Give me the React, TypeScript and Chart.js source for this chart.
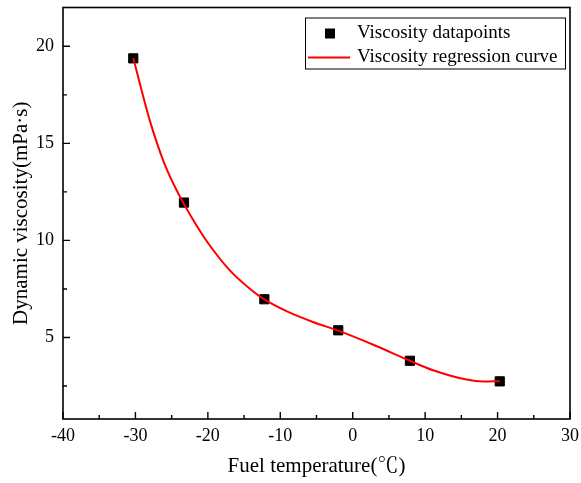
import React, { useEffect, useRef } from 'react';
import { Chart, registerables } from 'chart.js';

Chart.register(...registerables);

// Measured viscosity of the fuel at each temperature
const TEMPERATURES = [-30.3, -23.3, -12.2, -2.0, 7.9, 20.3];
const VISCOSITIES = [19.38, 11.95, 6.97, 5.37, 3.8, 2.74];

// Regression curve through the measurements
const CURVE_TEMPERATURES = [-30.3, -28, -26, -24, -22, -20, -17, -14, -12.2, -9, -5.5, -2, 3, 7.9, 11.1, 15.7, 18, 20.3];
const CURVE_VISCOSITIES = [19.4, 16.16, 13.96, 12.36, 11.04, 9.88, 8.47, 7.45, 6.96, 6.33, 5.8, 5.35, 4.6, 3.8, 3.31, 2.83, 2.73, 2.75];

// Axis ticks
const X_TICKS = [-40, -30, -20, -10, 0, 10, 20, 30];
const X_MINOR_TICKS = [-35, -25, -15, -5, 5, 15, 25];
const Y_TICKS = [5, 10, 15, 20];
const Y_MINOR_TICKS = [2.5, 7.5, 12.5, 17.5];

const FONT = "'Liberation Serif', 'Times New Roman', 'Noto Serif CJK SC', serif";

const framePlugin = {
  id: 'frameAndLegend',
  afterDatasetsDraw(chart: any) {
    const { ctx, chartArea } = chart;
    const { left, right, top, bottom } = chartArea;
    const xs = chart.scales.x;
    const ys = chart.scales.y;
    ctx.save();
    ctx.strokeStyle = '#000';
    ctx.lineWidth = 1.6;
    ctx.strokeRect(left, top, right - left, bottom - top);

    ctx.lineWidth = 1.4;
    ctx.beginPath();
    X_TICKS.forEach((v) => {
      const px = xs.getPixelForValue(v);
      ctx.moveTo(px, bottom);
      ctx.lineTo(px, bottom - 7);
    });
    X_MINOR_TICKS.forEach((v) => {
      const px = xs.getPixelForValue(v);
      ctx.moveTo(px, bottom);
      ctx.lineTo(px, bottom - 4);
    });
    Y_TICKS.forEach((v) => {
      const py = ys.getPixelForValue(v);
      ctx.moveTo(left, py);
      ctx.lineTo(left + 7, py);
    });
    Y_MINOR_TICKS.forEach((v) => {
      const py = ys.getPixelForValue(v);
      ctx.moveTo(left, py);
      ctx.lineTo(left + 4, py);
    });
    ctx.stroke();

    // Legend box in the upper right corner
    const bx = right - 265;
    const by = top + 10;
    const bw = 260;
    const bh = 51;
    ctx.fillStyle = '#fff';
    ctx.fillRect(bx, by, bw, bh);
    ctx.lineWidth = 1;
    ctx.strokeStyle = '#000';
    ctx.strokeRect(bx + 0.5, by + 0.5, bw, bh);

    const row1 = by + 16;
    const row2 = by + 40;
    ctx.fillStyle = '#000';
    ctx.fillRect(bx + 20, row1 - 5, 10, 10);
    ctx.strokeStyle = '#ff0000';
    ctx.lineWidth = 2;
    ctx.beginPath();
    ctx.moveTo(bx + 3, row2);
    ctx.lineTo(bx + 45, row2);
    ctx.stroke();

    ctx.fillStyle = '#000';
    ctx.font = `19px ${FONT}`;
    ctx.textBaseline = 'middle';
    ctx.textAlign = 'left';
    ctx.fillText(chart.data.datasets[1].label, bx + 52, row1);
    ctx.fillText(chart.data.datasets[0].label, bx + 52, row2);
    ctx.restore();
  },
};

export default function App() {
  const canvasRef = useRef<HTMLCanvasElement | null>(null);

  useEffect(() => {
    const canvas = canvasRef.current;
    if (!canvas) return;
    const chart = new Chart(canvas, {
      type: 'scatter',
      data: {
        datasets: [
          {
            type: 'line',
            label: 'Viscosity regression curve',
            data: CURVE_TEMPERATURES.map((x, i) => ({ x, y: CURVE_VISCOSITIES[i] })),
            borderColor: '#ff0000',
            borderWidth: 2,
            pointRadius: 0,
            cubicInterpolationMode: 'monotone',
            fill: false,
            order: 0,
          } as any,
          {
            type: 'scatter',
            label: 'Viscosity datapoints',
            data: TEMPERATURES.map((x, i) => ({ x, y: VISCOSITIES[i] })),
            pointStyle: 'rect',
            pointRadius: 6.5,
            pointBackgroundColor: '#000',
            pointBorderColor: '#000',
            pointBorderWidth: 1,
            order: 1,
          },
        ],
      },
      options: {
        responsive: false,
        animation: false,
        layout: { padding: { top: 7, right: 11, left: 0, bottom: 0 } },
        plugins: {
          legend: { display: false },
          tooltip: { enabled: false },
        },
        scales: {
          x: {
            type: 'linear',
            min: -40,
            max: 30,
            afterBuildTicks: (scale: any) => {
              scale.ticks = X_TICKS.map((value) => ({ value }));
            },
            afterFit: (scale: any) => {
              scale.height = 64;
              scale.paddingLeft = 0;
              scale.paddingRight = 0;
            },
            grid: { display: false, drawTicks: false },
            border: { display: false },
            ticks: {
              color: '#000',
              padding: 6,
              maxRotation: 0,
              font: { family: FONT, size: 18 },
            },
            title: {
              display: true,
              text: 'Fuel temperature(℃)',
              color: '#000',
              font: { family: FONT, size: 21 },
              padding: { top: 0, bottom: 4 },
            },
          },
          y: {
            type: 'linear',
            min: 0.8,
            max: 22,
            afterBuildTicks: (scale: any) => {
              scale.ticks = Y_TICKS.map((value) => ({ value }));
            },
            afterFit: (scale: any) => {
              scale.width = 63;
              scale.paddingTop = 0;
              scale.paddingBottom = 0;
            },
            grid: { display: false, drawTicks: false },
            border: { display: false },
            ticks: {
              color: '#000',
              padding: 9,
              font: { family: FONT, size: 18 },
            },
            title: {
              display: true,
              text: 'Dynamic viscosity(mPa·s)',
              color: '#000',
              font: { family: FONT, size: 21 },
              padding: { top: 9, bottom: 0 },
            },
          },
        },
      },
      plugins: [framePlugin],
    });
    return () => chart.destroy();
  }, []);

  return (
    <div style={{ position: 'fixed', left: 0, top: 0, width: 581, height: 483, background: '#fff' }}>
      <canvas ref={canvasRef} width={581} height={483} />
    </div>
  );
}
